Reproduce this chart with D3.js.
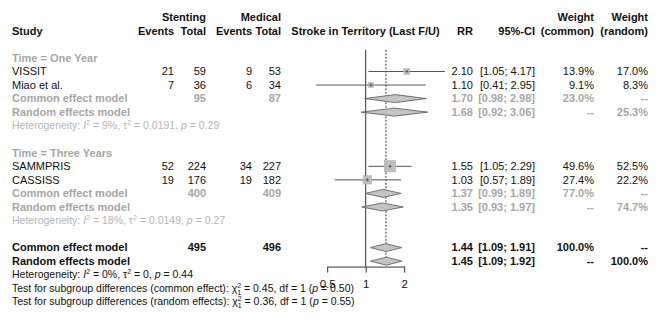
<!DOCTYPE html>
<head>
    <meta charset="utf-8">
    <style> body { margin: 0; background: #fff; } text { font-family: "Liberation Sans", Arial, sans-serif; } </style>
    <script src="https://d3js.org/d3.v7.min.js"></script>
</head>
<body>
<div id="chart"></div>
<script>

    // study level data
    var studies = ["VISSIT", "Miao et al.", "SAMMPRIS", "CASSISS"];
    var studyGroup = [0, 0, 1, 1];
    var eventsE = [21, 7, 52, 19];
    var totalE = [59, 36, 224, 176];
    var eventsC = [9, 6, 34, 19];
    var totalC = [53, 34, 227, 182];
    var rr = [2.10, 1.10, 1.55, 1.03];
    var rrLo = [1.05, 0.41, 1.05, 0.57];
    var rrHi = [4.17, 2.95, 2.29, 1.89];
    var wCommon = [13.9, 9.1, 49.6, 27.4];
    var wRandom = [17.0, 8.3, 52.5, 22.2];

    // subgroups
    var groupLabels = ["Time = One Year", "Time = Three Years"];
    var subTotalE = [95, 400];
    var subTotalC = [87, 409];
    var subCommonRR = [1.70, 1.37], subCommonLo = [0.98, 0.99], subCommonHi = [2.98, 1.89];
    var subRandomRR = [1.68, 1.35], subRandomLo = [0.92, 0.93], subRandomHi = [3.06, 1.97];
    var subCommonW = ["23.0%", "77.0%"];
    var subRandomW = ["25.3%", "74.7%"];
    var subI2 = ["9%", "18%"], subTau2 = ["0.0191", "0.0149"], subP = ["0.29", "0.27"];

    // overall
    var overallTotals = [495, 496];
    var overallCommon = [1.44, 1.09, 1.91];
    var overallRandom = [1.45, 1.09, 1.92];
    var overallHet = ["0%", "0", "0.44"];
    var testCommon = ["0.45", "1", "0.50"];
    var testRandom = ["0.36", "1", "0.55"];

    var xTicks = [0.5, 1, 2];

    var W = 665, H = 320;
    var black = "#111", grey = "#a6a6a6", greyLight = "#b5b5b5";
    var fs = 11, fsHet = 10.5;

    var svg = d3.select("#chart").append("svg").attr("width", W).attr("height", H);

    var rowY = d3.scaleLinear().domain([0, 21]).range([17.3, 301.8]);
    var x = d3.scaleLog().domain([0.5, 2]).range([327.2, 404.2]);
    var sq = d3.scaleSqrt().domain([0, 49.6]).range([0, 11.3]);

    var col = { study: 12, evE: 174, totE: 206, evC: 252, totC: 281, plot: 365.5, rr: 473, ci: 535, wc: 594, wr: 648 };

    var fmt2 = d3.format(".2f");
    var fmtW = function(d) { return d.toFixed(1) + "%"; };
    var ciText = function(lo, hi) { return "[" + fmt2(lo) + "; " + fmt2(hi) + "]"; };

    function txt(r, xp, t, opt) {
        opt = opt || {};
        return svg.append("text")
            .attr("x", xp)
            .attr("y", rowY(r))
            .attr("dy", "0.35em")
            .attr("text-anchor", opt.anchor || "end")
            .attr("font-size", opt.size || fs)
            .attr("font-weight", opt.bold ? "bold" : "normal")
            .attr("fill", opt.color || black)
            .text(t);
    }

    // header
    [["Stenting", col.totE], ["Medical", col.totC], ["Weight", col.wc], ["Weight", col.wr]].forEach(function(h) {
        txt(0, h[1], h[0], { bold: true });
    });
    txt(1, col.study, "Study", { bold: true, anchor: "start" });
    [["Events", col.evE], ["Total", col.totE], ["Events", col.evC], ["Total", col.totC],
     ["RR", col.rr], ["95%-CI", col.ci], ["(common)", col.wc], ["(random)", col.wr]].forEach(function(h) {
        txt(1, h[1], h[0], { bold: true });
    });
    txt(1, col.plot, "Stroke in Territory (Last F/U)", { bold: true, anchor: "middle" });

    // vertical reference lines
    var plotTop = rowY(2.4), axisY = rowY(18.4);
    svg.append("line")
        .attr("x1", x(1)).attr("x2", x(1))
        .attr("y1", plotTop).attr("y2", axisY)
        .attr("stroke", "#333").attr("stroke-width", 1);
    svg.append("line")
        .attr("x1", x(overallCommon[0])).attr("x2", x(overallCommon[0]))
        .attr("y1", plotTop).attr("y2", rowY(18.2))
        .attr("stroke", "#333").attr("stroke-width", 1).attr("stroke-dasharray", "2,1.5");

    function hetLine(r, parts, color) {
        // parts: I2, tau2, p
        var t = svg.append("text")
            .attr("x", col.study).attr("y", rowY(r)).attr("dy", "0.35em")
            .attr("font-size", fsHet).attr("fill", color);
        t.append("tspan").text("Heterogeneity: ");
        t.append("tspan").attr("font-style", "italic").text("I");
        t.append("tspan").attr("font-size", 7).attr("dy", -4).text("2");
        t.append("tspan").attr("dy", 4).text(" = " + parts[0] + ", \u03c4");
        t.append("tspan").attr("font-size", 7).attr("dy", -4).text("2");
        t.append("tspan").attr("dy", 4).text(" = " + parts[1] + ", ");
        t.append("tspan").attr("font-style", "italic").text("p");
        t.append("tspan").text(" = " + parts[2]);
    }

    function testLine(r, label, parts) {
        var t = svg.append("text")
            .attr("x", col.study).attr("y", rowY(r)).attr("dy", "0.35em")
            .attr("font-size", fsHet).attr("fill", black);
        t.append("tspan").text("Test for subgroup differences (" + label + "): \u03c7");
        t.append("tspan").attr("font-size", 7).attr("dy", -4).text("2");
        t.append("tspan").attr("font-size", 7).attr("dx", -3.9).attr("dy", 7).text("1");
        t.append("tspan").attr("dy", -3).text(" = " + parts[0] + ", df = " + parts[1] + " (");
        t.append("tspan").attr("font-style", "italic").text("p");
        t.append("tspan").text(" = " + parts[2] + ")");
    }

    function diamond(r, est, lo, hi) {
        var yc = rowY(r), h = 4;
        svg.append("path")
            .attr("d", "M" + x(lo) + "," + yc + "L" + x(est) + "," + (yc - h) + "L" + x(hi) + "," + yc + "L" + x(est) + "," + (yc + h) + "Z")
            .attr("fill", "#c4c4c4")
            .attr("stroke", "#555")
            .attr("stroke-width", 0.8);
    }

    // subgroup blocks
    groupLabels.forEach(function(g, gi) {
        var r0 = gi * 7 + 3;
        txt(r0, col.study, g, { bold: true, anchor: "start", color: grey });

        var idx = d3.range(studies.length).filter(function(i) { return studyGroup[i] === gi; });
        idx.forEach(function(i, k) {
            var r = r0 + 1 + k, yc = rowY(r);
            txt(r, col.study, studies[i], { anchor: "start" });
            txt(r, col.evE, eventsE[i]);
            txt(r, col.totE, totalE[i]);
            txt(r, col.evC, eventsC[i]);
            txt(r, col.totC, totalC[i]);
            txt(r, col.rr, fmt2(rr[i]));
            txt(r, col.ci, ciText(rrLo[i], rrHi[i]));
            txt(r, col.wc, fmtW(wCommon[i]));
            txt(r, col.wr, fmtW(wRandom[i]));

            svg.append("line")
                .attr("x1", x(rrLo[i])).attr("x2", x(rrHi[i]))
                .attr("y1", yc).attr("y2", yc)
                .attr("stroke", "#555").attr("stroke-width", 1);
            var s = sq(wCommon[i]);
            svg.append("rect")
                .attr("x", x(rr[i]) - s / 2).attr("y", yc - s / 2)
                .attr("width", s).attr("height", s)
                .attr("fill", "#bdbdbd").attr("stroke", "#aaa").attr("stroke-width", 0.5);
            svg.append("path")
                .attr("d", "M" + (x(rr[i]) - 1.5) + "," + yc + "h3M" + x(rr[i]) + "," + (yc - 1.5) + "v3")
                .attr("stroke", "#444").attr("stroke-width", 0.8);
        });

        var rc = r0 + 3, rr2 = r0 + 4;
        txt(rc, col.study, "Common effect model", { bold: true, anchor: "start", color: grey });
        txt(rc, col.totE, subTotalE[gi], { bold: true, color: grey });
        txt(rc, col.totC, subTotalC[gi], { bold: true, color: grey });
        txt(rc, col.rr, fmt2(subCommonRR[gi]), { bold: true, color: grey });
        txt(rc, col.ci, ciText(subCommonLo[gi], subCommonHi[gi]), { bold: true, color: grey });
        txt(rc, col.wc, subCommonW[gi], { bold: true, color: grey });
        txt(rc, col.wr, "--", { bold: true, color: grey });
        diamond(rc, subCommonRR[gi], subCommonLo[gi], subCommonHi[gi]);

        txt(rr2, col.study, "Random effects model", { bold: true, anchor: "start", color: grey });
        txt(rr2, col.rr, fmt2(subRandomRR[gi]), { bold: true, color: grey });
        txt(rr2, col.ci, ciText(subRandomLo[gi], subRandomHi[gi]), { bold: true, color: grey });
        txt(rr2, col.wc, "--", { bold: true, color: grey });
        txt(rr2, col.wr, subRandomW[gi], { bold: true, color: grey });
        diamond(rr2, subRandomRR[gi], subRandomLo[gi], subRandomHi[gi]);

        hetLine(r0 + 5, [subI2[gi], subTau2[gi], subP[gi]], greyLight);
    });

    // overall
    txt(17, col.study, "Common effect model", { bold: true, anchor: "start" });
    txt(17, col.totE, overallTotals[0], { bold: true });
    txt(17, col.totC, overallTotals[1], { bold: true });
    txt(17, col.rr, fmt2(overallCommon[0]), { bold: true });
    txt(17, col.ci, ciText(overallCommon[1], overallCommon[2]), { bold: true });
    txt(17, col.wc, "100.0%", { bold: true });
    txt(17, col.wr, "--", { bold: true });
    diamond(17, overallCommon[0], overallCommon[1], overallCommon[2]);

    txt(18, col.study, "Random effects model", { bold: true, anchor: "start" });
    txt(18, col.rr, fmt2(overallRandom[0]), { bold: true });
    txt(18, col.ci, ciText(overallRandom[1], overallRandom[2]), { bold: true });
    txt(18, col.wc, "--", { bold: true });
    txt(18, col.wr, "100.0%", { bold: true });
    diamond(18, overallRandom[0], overallRandom[1], overallRandom[2]);

    hetLine(19, overallHet, black);
    testLine(20, "common effect", testCommon);
    testLine(21, "random effects", testRandom);

    // x axis
    var xAxis = d3.axisBottom(x).tickValues(xTicks).tickSize(6).tickSizeOuter(0).tickPadding(7)
        .tickFormat(function(d) { return d; });
    var ax = svg.append("g").attr("transform", "translate(0," + axisY + ")").call(xAxis);
    ax.select(".domain").attr("stroke", "#333");
    ax.selectAll(".tick line").attr("stroke", "#333");
    ax.selectAll(".tick text")
        .attr("font-size", 11.5)
        .attr("font-family", "Liberation Sans, Arial, sans-serif")
        .attr("fill", black);

</script>
</body>
